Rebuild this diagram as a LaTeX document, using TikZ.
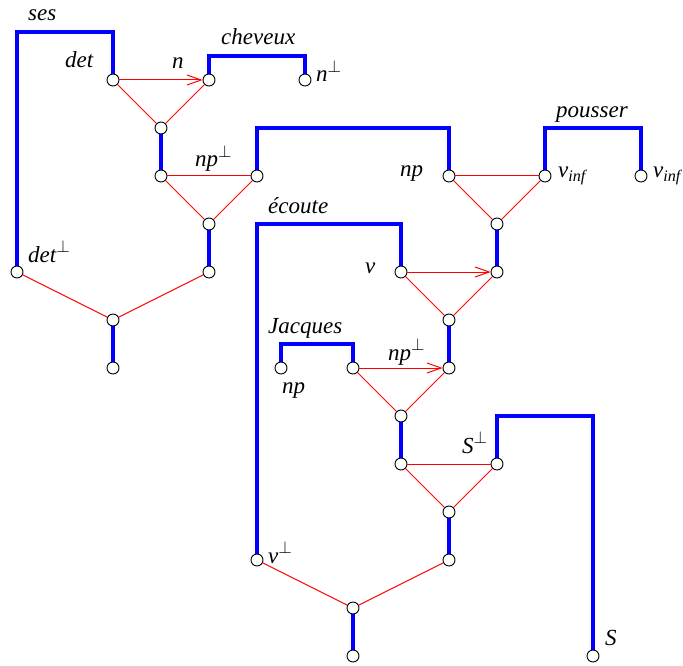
\documentclass[tikz,border=0pt]{standalone}
\usepackage{fontspec}
\setmainfont{Liberation Serif}
\usetikzlibrary{arrows.meta,backgrounds}
\begin{document}
\begin{tikzpicture}[x=1pt,y=-1pt,
  dot/.style={circle,draw=black,fill=white,line width=0.9pt,minimum size=12pt,inner sep=0pt},
  ax/.style={draw=blue,line width=4.5pt,line join=miter,line cap=butt},
  lk/.style={draw=red,line width=1pt},
  lkarr/.style={lk,-{Straight Barb[length=14pt,width=10pt]}},
  lab/.style={anchor=base west,inner sep=0pt,font=\fontsize{23}{27}\selectfont\itshape}]
\useasboundingbox (0,0) rectangle (683,666);
% vertices
\node[dot] (det) at (113,80) {};
\node[dot] (n) at (209,80) {};
\node[dot] (nperp) at (305,80) {};
\node[dot] (a1) at (161,128) {};
\node[dot] (b1) at (161,176) {};
\node[dot] (npperp) at (257,176) {};
\node[dot] (a2) at (209,224) {};
\node[dot] (detperp) at (17,272) {};
\node[dot] (b2) at (209,272) {};
\node[dot] (a3) at (113,320) {};
\node[dot] (r1) at (113,368) {};
\node[dot] (np) at (449,176) {};
\node[dot] (vinf1) at (545,176) {};
\node[dot] (vinf2) at (641,176) {};
\node[dot] (a4) at (497,224) {};
\node[dot] (v) at (401,272) {};
\node[dot] (b4) at (497,272) {};
\node[dot] (a5) at (449,320) {};
\node[dot] (jnp) at (281,368) {};
\node[dot] (jr) at (353,368) {};
\node[dot] (b5) at (449,368) {};
\node[dot] (a6) at (401,416) {};
\node[dot] (b6) at (401,464) {};
\node[dot] (sperp) at (497,464) {};
\node[dot] (a7) at (449,512) {};
\node[dot] (vperp) at (257,560) {};
\node[dot] (b7) at (449,560) {};
\node[dot] (a8) at (353,608) {};
\node[dot] (r2) at (353,656) {};
\node[dot] (s) at (593,656) {};
% axiom links (blue)
\begin{pgfonlayer}{background}
\draw[ax] (detperp.center) -- ++(0,-240) -| (det.center);
\draw[ax] (n.center) -- ++(0,-24) -| (nperp.center);
\draw[ax] (a1.center) -- (b1.center);
\draw[ax] (npperp.center) -- ++(0,-48) -| (np.center);
\draw[ax] (vinf1.center) -- ++(0,-48) -| (vinf2.center);
\draw[ax] (a2.center) -- (b2.center);
\draw[ax] (a3.center) -- (r1.center);
\draw[ax] (a4.center) -- (b4.center);
\draw[ax] (vperp.center) -- ++(0,-336) -| (v.center);
\draw[ax] (a5.center) -- (b5.center);
\draw[ax] (jnp.center) -- ++(0,-24) -| (jr.center);
\draw[ax] (a6.center) -- (b6.center);
\draw[ax] (sperp.center) -- ++(0,-48) -| (s.center);
\draw[ax] (a7.center) -- (b7.center);
\draw[ax] (a8.center) -- (r2.center);
\end{pgfonlayer}
% links (red)
\draw[lkarr] (det) -- (n);
\draw[lk] (det) -- (a1);
\draw[lk] (n) -- (a1);
\draw[lk] (b1) -- (npperp);
\draw[lk] (b1) -- (a2);
\draw[lk] (npperp) -- (a2);
\draw[lk] (detperp) -- (a3);
\draw[lk] (b2) -- (a3);
\draw[lk] (np) -- (vinf1);
\draw[lk] (np) -- (a4);
\draw[lk] (vinf1) -- (a4);
\draw[lkarr] (v) -- (b4);
\draw[lk] (v) -- (a5);
\draw[lk] (b4) -- (a5);
\draw[lkarr] (jr) -- (b5);
\draw[lk] (jr) -- (a6);
\draw[lk] (b5) -- (a6);
\draw[lk] (b6) -- (sperp);
\draw[lk] (b6) -- (a7);
\draw[lk] (sperp) -- (a7);
\draw[lk] (vperp) -- (a8);
\draw[lk] (b7) -- (a8);
% labels
\node[lab] (lses) at (28,21) {ses};
\node[lab] (ldet) at (65,68) {det};
\node[lab] (ln) at (172,69) {n};
\node[lab] (lchev) at (221,45) {cheveux};
\node[lab] (lnperp) at (316,82) {n$^{\perp}$};
\node[lab] (lnpperp) at (195,167) {np$^{\perp}$};
\node[lab] (lnp) at (400,176) {np};
\node[lab] (lvinf1) at (558,178) {v\textsubscript{inf}};
\node[lab] (lvinf2) at (653,178) {v\textsubscript{inf}};
\node[lab] (lpous) at (556,118) {pousser};
\node[lab] (lecoute) at (268,213) {écoute};
\node[lab] (lv) at (365,273) {v};
\node[lab] (ldetperp) at (28,262) {det$^{\perp}$};
\node[lab] (ljac) at (268,333) {Jacques};
\node[lab] (ljnp) at (282,393) {np};
\node[lab] (ljnpperp) at (388,360) {np$^{\perp}$};
\node[lab] (lsperp) at (462,453) {S$^{\perp}$};
\node[lab] (lvperp) at (268,563) {v$^{\perp}$};
\node[lab] (ls) at (605,645) {S};
\end{tikzpicture}
\end{document}
